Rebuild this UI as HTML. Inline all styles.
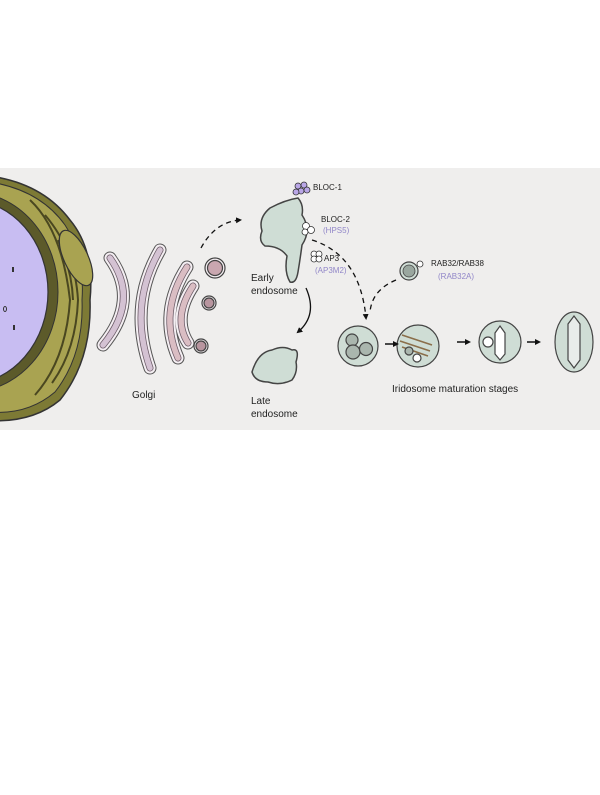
<!DOCTYPE html>
<html><head><style>
html,body{margin:0;padding:0;background:#fff;}
svg{display:block}
text{font-family:"Liberation Sans",sans-serif;}
</style></head><body>
<svg width="600" height="795" viewBox="0 0 600 795">
<defs>
<marker id="ah" markerWidth="6" markerHeight="6" refX="4" refY="3" orient="auto" markerUnits="userSpaceOnUse"><path d="M0,0 L6,3 L0,6 Z" fill="#111"/></marker>
<clipPath id="band"><rect x="0" y="168" width="600" height="262"/></clipPath>
</defs>
<rect x="0" y="168" width="600" height="262" fill="#efeeed"/>
<g clip-path="url(#band)">
<!-- ER -->
<path d="M-20,175 Q40,180 70,220 Q95,250 90,300 Q92,360 60,400 Q30,425 -20,420 Z" fill="#7d7a35" stroke="#333" stroke-width="1.5"/>
<path d="M-10,182 Q40,190 65,225 Q85,255 82,300 Q84,355 55,392 Q28,415 -10,412 Z" fill="#a9a351" stroke="#333" stroke-width="1"/>
<g fill="none" stroke="#4a4720" stroke-width="2">
<path d="M30,200 Q62,230 70,300 Q66,360 35,395"/>
<path d="M45,215 Q75,250 78,300 Q76,350 52,383"/>
<path d="M58,240 Q72,270 73,300"/>
</g>
<ellipse cx="76" cy="258" rx="12" ry="30" fill="#a9a351" stroke="#333" stroke-width="1.2" transform="rotate(-25 76 258)"/>
<ellipse cx="-30" cy="292" rx="88" ry="100" fill="#5c5a2a" stroke="#333"/>
<ellipse cx="-32" cy="292" rx="80" ry="92" fill="#c8bdf2" stroke="#333" stroke-width="1.2"/>
<g fill="#333"><rect x="12" y="267" width="2" height="5"/><ellipse cx="5" cy="309" rx="1.5" ry="2.5" fill="none" stroke="#333"/><rect x="13" y="325" width="2" height="5"/></g>
</g>
<!-- Golgi -->
<g fill="none" stroke-linecap="round">
<g stroke="#555" stroke-width="13">
<path d="M110,258 Q140,300 103,345"/>
<path d="M160,250 Q128,305 150,368"/>
<path d="M187,267 Q158,312 178,358"/>
<path d="M193,286 Q172,318 188,343"/>
</g>
<g stroke="#f4eef2" stroke-width="11">
<path d="M110,258 Q140,300 103,345"/>
<path d="M160,250 Q128,305 150,368"/>
<path d="M187,267 Q158,312 178,358"/>
<path d="M193,286 Q172,318 188,343"/>
</g>
<g stroke="#6a5a66" stroke-width="7">
<path d="M110,258 Q140,300 103,345"/>
<path d="M160,250 Q128,305 150,368"/>
<path d="M187,267 Q158,312 178,358"/>
<path d="M193,286 Q172,318 188,343"/>
</g>
<g stroke-width="5.5">
<path d="M110,258 Q140,300 103,345" stroke="#d4c2d3"/>
<path d="M160,250 Q128,305 150,368" stroke="#d4c2d3"/>
<path d="M187,267 Q158,312 178,358" stroke="#dabdc3"/>
<path d="M193,286 Q172,318 188,343" stroke="#dabdc3"/>
</g>
</g>
<g stroke="#444" stroke-width="1.2">
<circle cx="215" cy="268" r="10" fill="#f4eef2"/><circle cx="215" cy="268" r="7.5" fill="#c9a7b0"/>
<circle cx="209" cy="303" r="7" fill="#f4eef2"/><circle cx="209" cy="303" r="5" fill="#b8959f"/>
<circle cx="201" cy="346" r="7" fill="#f4eef2"/><circle cx="201" cy="346" r="5" fill="#b8959f"/>
</g>
<text x="132" y="398" font-size="10" fill="#222">Golgi</text>
<path d="M201,248 Q215,222 240,220" fill="none" stroke="#111" stroke-width="1.3" stroke-dasharray="5,4" marker-end="url(#ah)"/>
<!-- Early endosome -->
<path d="M270,208 Q285,200 298,198 Q304,205 302,215 Q312,230 302,245 Q300,260 298,272 Q296,284 290,282 Q284,272 287,256 Q280,246 265,246 Q258,241 262,231 Q258,218 270,208 Z" fill="#cfddd5" stroke="#444" stroke-width="1.5"/>
<g fill="#b9a6e6" stroke="#333" stroke-width="0.8">
<circle cx="298" cy="186" r="3"/><circle cx="304" cy="185" r="3"/><circle cx="301" cy="191" r="3"/><circle cx="307" cy="190" r="3"/><circle cx="296" cy="192" r="3"/>
</g>
<g fill="#fff" stroke="#333" stroke-width="0.8">
<circle cx="306" cy="226" r="3.5"/><circle cx="311" cy="230" r="3.5"/><circle cx="305" cy="232" r="3"/>
<circle cx="314" cy="254" r="3"/><circle cx="319" cy="254" r="3"/><circle cx="314" cy="259" r="3"/><circle cx="319" cy="259" r="3"/>
<circle cx="420" cy="264" r="3"/>
</g>
<text x="313" y="190" font-size="8" fill="#222">BLOC-1</text>
<text x="321" y="222" font-size="8" fill="#222">BLOC-2</text>
<text x="323" y="233" font-size="8" fill="#9186c8">(HPS5)</text>
<text x="324" y="261" font-size="8" fill="#222">AP3</text>
<text x="315" y="273" font-size="8" fill="#9186c8">(AP3M2)</text>
<text x="251" y="281" font-size="10" fill="#222">Early</text>
<text x="251" y="294" font-size="10" fill="#222">endosome</text>
<path d="M306,288 Q318,315 298,332" fill="none" stroke="#111" stroke-width="1.3" marker-end="url(#ah)"/>
<!-- Late endosome -->
<path d="M252,372 Q258,352 272,350 Q283,345 292,350 Q300,348 296,362 Q298,372 292,380 Q280,386 268,382 Q255,382 252,372 Z" fill="#cfddd5" stroke="#444" stroke-width="1.5"/>
<text x="251" y="404" font-size="10" fill="#222">Late</text>
<text x="251" y="417" font-size="10" fill="#222">endosome</text>
<path d="M312,240 Q360,255 366,318" fill="none" stroke="#111" stroke-width="1.3" stroke-dasharray="5,4" marker-end="url(#ah)"/>
<path d="M396,280 Q372,290 370,312" fill="none" stroke="#111" stroke-width="1.3" stroke-dasharray="5,4"/>
<circle cx="409" cy="271" r="9" fill="#cfddd5" stroke="#444" stroke-width="1.2"/>
<circle cx="409" cy="271" r="6" fill="#9aa79f" stroke="#444" stroke-width="0.8"/>
<text x="431" y="266" font-size="8" fill="#222">RAB32/RAB38</text>
<text x="438" y="279" font-size="8" fill="#9186c8">(RAB32A)</text>
<!-- stages -->
<g stroke="#444" stroke-width="1.2">
<circle cx="358" cy="346" r="20" fill="#cfddd5"/>
<circle cx="352" cy="340" r="6" fill="#aab6ae"/><circle cx="353" cy="352" r="7" fill="#aab6ae"/><circle cx="366" cy="349" r="6.5" fill="#aab6ae"/>
<circle cx="418" cy="346" r="21" fill="#cfddd5"/>
<g stroke="#8a6e4a" stroke-width="1.5"><line x1="402" y1="335" x2="432" y2="345"/><line x1="400" y1="341" x2="430" y2="351"/><line x1="402" y1="347" x2="428" y2="356"/></g>
<circle cx="417" cy="358" r="4" fill="#fff"/><circle cx="409" cy="351" r="4" fill="#aab6ae"/>
<circle cx="500" cy="342" r="21" fill="#cfddd5"/>
<path d="M500,326 L505,333 L505,354 L500,360 L495,354 L495,333 Z" fill="#fff"/>
<circle cx="488" cy="342" r="5" fill="#fff"/>
<ellipse cx="574" cy="342" rx="19" ry="30" fill="#cfddd5"/>
<path d="M574,316 L580,324 L580,360 L574,368 L568,360 L568,324 Z" fill="#e8ecea"/>
</g>
<g stroke="#111" stroke-width="1.5" fill="none">
<line x1="385" y1="344" x2="397" y2="344" marker-end="url(#ah)"/>
<line x1="457" y1="342" x2="469" y2="342" marker-end="url(#ah)"/>
<line x1="527" y1="342" x2="539" y2="342" marker-end="url(#ah)"/>
</g>
<text x="392" y="392" font-size="10" fill="#222">Iridosome maturation stages</text>
</svg>
</body></html>
